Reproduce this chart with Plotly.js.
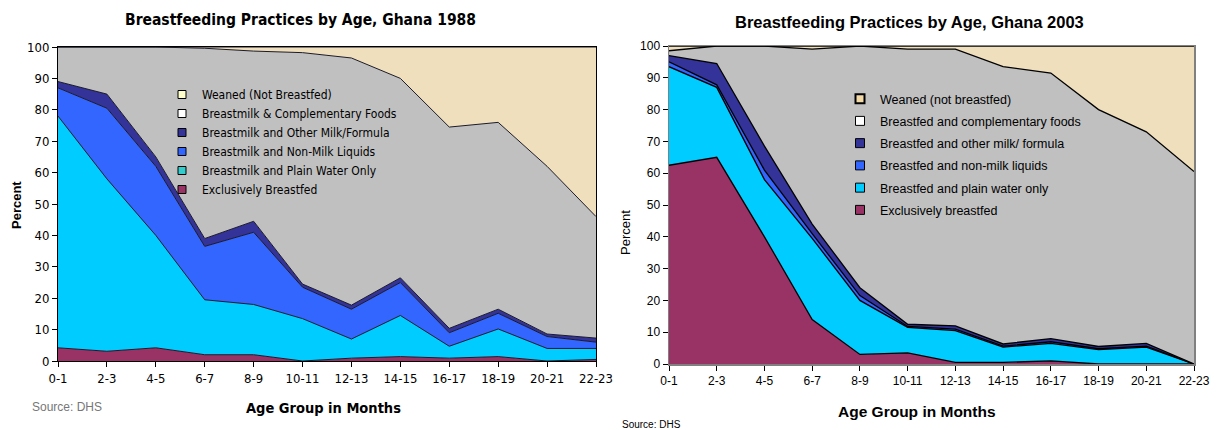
<!DOCTYPE html>
<html>
<head>
<meta charset="utf-8">
<script src="https://cdn.plot.ly/plotly-3.0.1.min.js"></script>
<style>
  html, body { margin: 0; padding: 0; background: #ffffff; }
  #chart { width: 1217px; height: 430px; }
</style>
</head>
<body>
<div id="chart"></div>
<script>
// ---------- data ----------
const ageGroups = ["0-1", "2-3", "4-5", "6-7", "8-9", "10-11", "12-13", "14-15", "16-17", "18-19", "20-21", "22-23"];

// Ghana 1988 (percent of children in each category)
const excl1988    = [4.2, 3.1, 4.2, 2.0, 2.0, 0.0, 0.9, 1.4, 0.9, 1.4, 0.0, 0.5];
const water1988   = [73.8, 54.9, 35.8, 17.5, 16.0, 13.5, 6.1, 13.1, 3.8, 8.8, 4.0, 3.5];
const nonmilk1988 = [9.0, 22.5, 22.0, 17.0, 23.0, 10.0, 9.5, 10.5, 4.3, 5.0, 3.8, 2.0];
const milk1988    = [2.0, 4.5, 3.0, 2.5, 3.5, 1.0, 1.3, 1.5, 1.4, 1.3, 0.8, 1.3];
const comp1988    = [11.0, 15.0, 35.0, 60.6, 54.2, 73.7, 78.7, 63.5, 64.1, 59.5, 53.4, 38.7];
const weaned1988  = [0.0, 0.0, 0.0, 0.4, 1.3, 1.8, 3.5, 10.0, 25.5, 24.0, 38.0, 54.0];

// Ghana 2003
const excl2003    = [62.5, 65.0, 40.0, 14.0, 3.0, 3.5, 0.5, 0.5, 1.0, 0.0, 0.0, 0.0];
const water2003   = [31.0, 22.0, 18.0, 25.5, 17.0, 8.0, 10.0, 4.8, 5.5, 4.5, 5.3, 0.0];
const nonmilk2003 = [1.5, 0.8, 3.0, 1.5, 1.5, 0.3, 0.5, 0.3, 0.5, 0.3, 0.3, 0.0];
const milk2003    = [2.0, 6.7, 7.5, 3.0, 2.5, 0.7, 1.0, 0.7, 1.0, 0.7, 0.9, 0.0];
const comp2003    = [1.5, 5.5, 31.5, 55.0, 76.0, 86.5, 87.0, 87.2, 83.5, 74.5, 66.5, 60.5];
const weaned2003  = [1.5, 0.0, 0.0, 1.0, 0.0, 1.0, 1.0, 6.5, 8.5, 20.0, 27.0, 39.5];

const names1988 = ["Exclusively Breastfed", "Breastmilk and Plain Water Only", "Breastmilk and Non-Milk Liquids",
                   "Breastmilk and Other Milk/Formula", "Breastmilk & Complementary Foods", "Weaned (Not Breastfed)"];
const names2003 = ["Exclusively breastfed", "Breastfed and plain water only", "Breastfed and non-milk liquids",
                   "Breastfed and other milk/ formula", "Breastfed and complementary foods", "Weaned (not breastfed)"];

const yTicks = [0, 10, 20, 30, 40, 50, 60, 70, 80, 90, 100];

// ---------- styling ----------
const fills = ["#993366", "#00ccff", "#3366ff", "#333399", "#c0c0c0", "#efdfbd"];
const legendFills88 = ["#993366", "#33cccc", "#3366ff", "#333399", "#ffffff", "#ffffcc"];
const legendFills03 = ["#993366", "#00ccff", "#3366ff", "#333399", "#ffffff", "#f3d9a6"];
const NARROW = "Liberation Sans Narrow, DejaVu Sans Condensed, Arial Narrow, sans-serif";
const ARIAL = "Liberation Sans, Arial, sans-serif";

const series1988 = [excl1988, water1988, nonmilk1988, milk1988, comp1988, weaned1988];
const series2003 = [excl2003, water2003, nonmilk2003, milk2003, comp2003, weaned2003];

const traces = [];
series1988.forEach((vals, i) => {
  traces.push({
    type: "scatter", mode: "lines", x: ageGroups, y: vals,
    xaxis: "x", yaxis: "y", stackgroup: "s88", name: names1988[i],
    line: { color: "#1a1a2a", width: 1 }, fillcolor: fills[i],
    showlegend: false, hoverinfo: "skip"
  });
});
series2003.forEach((vals, i) => {
  traces.push({
    type: "scatter", mode: "lines", x: ageGroups, y: vals,
    xaxis: "x2", yaxis: "y2", stackgroup: "s03", name: names2003[i],
    line: { color: "#000000", width: 1.3 }, fillcolor: fills[i],
    showlegend: false, hoverinfo: "skip"
  });
});
// legend entries (square swatches)
for (let i = names1988.length - 1; i >= 0; i--) {
  traces.push({
    type: "scatter", mode: "markers", x: [null], y: [null], xaxis: "x", yaxis: "y",
    name: names1988[i], legend: "legend", legendgroup: "a" + i,
    marker: { symbol: "square", size: 8, color: legendFills88[i], line: { color: "#000000", width: 1 } },
    hoverinfo: "skip"
  });
}
for (let i = names2003.length - 1; i >= 0; i--) {
  traces.push({
    type: "scatter", mode: "markers", x: [null], y: [null], xaxis: "x2", yaxis: "y2",
    name: names2003[i], legend: "legend2", legendgroup: "b" + i,
    marker: { symbol: "square", size: 9, color: legendFills03[i], line: { color: "#000000", width: i === 5 ? 2 : 1 } },
    hoverinfo: "skip"
  });
}

const W = 1217, H = 430;
const px = v => v / W, py = v => (H - v) / H;

const xCommon = {
  type: "category", range: [0, ageGroups.length - 1], showgrid: false, zeroline: false,
  ticks: "outside", ticklen: 5, tickcolor: "#000000", showline: true, mirror: true, fixedrange: true
};
const yCommon = {
  range: [0, 100], tickvals: yTicks, showgrid: false, zeroline: false,
  ticks: "outside", ticklen: 5, tickcolor: "#000000", showline: true, mirror: true, fixedrange: true
};

const layout = {
  width: W, height: H, margin: { l: 0, r: 0, t: 0, b: 0 },
  paper_bgcolor: "#ffffff", plot_bgcolor: "#efdfbd",
  xaxis: Object.assign({}, xCommon, {
    domain: [px(58), px(596)], anchor: "y", linecolor: "#000000", linewidth: 1,
    tickfont: { family: NARROW, size: 13, color: "#000000" }
  }),
  yaxis: Object.assign({}, yCommon, {
    domain: [py(361), py(47)], anchor: "x", linecolor: "#000000", linewidth: 1,
    tickfont: { family: NARROW, size: 13, color: "#000000" }
  }),
  xaxis2: Object.assign({}, xCommon, {
    domain: [px(669), px(1194)], anchor: "y2", linecolor: "#808080", linewidth: 1.5,
    tickfont: { family: ARIAL, size: 12, color: "#000000" }
  }),
  yaxis2: Object.assign({}, yCommon, {
    domain: [py(364), py(46)], anchor: "x2", linecolor: "#808080", linewidth: 1.5,
    tickfont: { family: ARIAL, size: 12, color: "#000000" }
  }),
  legend: {
    x: px(162), y: py(80), xanchor: "left", yanchor: "top", bgcolor: "rgba(0,0,0,0)",
    borderwidth: 0, font: { family: NARROW, size: 12, color: "#000000" },
    itemwidth: 30, tracegroupgap: 0
  },
  legend2: {
    x: px(840), y: py(84), xanchor: "left", yanchor: "top", bgcolor: "rgba(0,0,0,0)",
    borderwidth: 0, font: { family: ARIAL, size: 12.5, color: "#000000" },
    itemwidth: 30, tracegroupgap: 3
  },
  annotations: [
    { text: "<b>Breastfeeding Practices by Age, Ghana 1988</b>", x: px(300), y: py(20), xref: "paper", yref: "paper",
      showarrow: false, xanchor: "center", yanchor: "middle", font: { family: NARROW, size: 15.5, color: "#000000" } },
    { text: "<b>Breastfeeding Practices by Age, Ghana 2003</b>", x: px(910), y: py(22), xref: "paper", yref: "paper",
      showarrow: false, xanchor: "center", yanchor: "middle", font: { family: ARIAL, size: 16.5, color: "#000000" } },
    { text: "<b>Percent</b>", x: px(17), y: py(205), xref: "paper", yref: "paper", textangle: -90,
      showarrow: false, xanchor: "center", yanchor: "middle", font: { family: ARIAL, size: 13, color: "#000000" } },
    { text: "Percent", x: px(625), y: py(233), xref: "paper", yref: "paper", textangle: -90,
      showarrow: false, xanchor: "center", yanchor: "middle", font: { family: ARIAL, size: 13, color: "#000000" } },
    { text: "<b>Age Group in Months</b>", x: px(323), y: py(408), xref: "paper", yref: "paper",
      showarrow: false, xanchor: "center", yanchor: "middle", font: { family: NARROW, size: 14.5, color: "#000000" } },
    { text: "<b>Age Group in Months</b>", x: px(917), y: py(411), xref: "paper", yref: "paper",
      showarrow: false, xanchor: "center", yanchor: "middle", font: { family: ARIAL, size: 15.5, color: "#000000" } },
    { text: "Source: DHS", x: px(30), y: py(407), xref: "paper", yref: "paper",
      showarrow: false, xanchor: "left", yanchor: "middle", font: { family: ARIAL, size: 12, color: "#777777" } },
    { text: "Source: DHS", x: px(620), y: py(424), xref: "paper", yref: "paper",
      showarrow: false, xanchor: "left", yanchor: "middle", font: { family: ARIAL, size: 10, color: "#000000" } }
  ]
};

Plotly.newPlot("chart", traces, layout, { staticPlot: true, displayModeBar: false });
</script>
</body>
</html>
